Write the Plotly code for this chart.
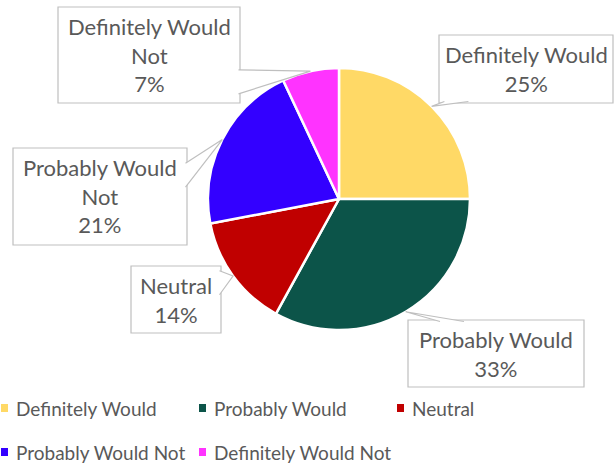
import math
import plotly.graph_objects as go

W, H = 614, 464

labels = ["Definitely Would", "Probably Would", "Neutral", "Probably Would Not", "Definitely Would Not"]
values = [25, 33, 14, 21, 7]
colors = ["#FFD966", "#0C5449", "#C00000", "#3300FF", "#FF33FF"]
# how each callout label is wrapped
callout_names = ["Definitely Would", "Probably Would", "Neutral", "Probably Would<br>Not", "Definitely Would<br>Not"]

# callout boxes in pixels: left, top, width, height, side where the pointer leaves,
# position of the pointer base along that side (fraction)
boxes = [
    (439, 35, 174, 68, "bottom", 0.10),
    (408, 320, 176, 67, "top", 0.25),
    (131, 266, 90, 67, "right", 0.25),
    (13, 148, 174, 97, "right", 0.28),
    (58, 7, 182, 96, "right", 0.78),
]

# pie geometry in pixels
CX, CY, R = 339, 199, 131

TXT = "#595959"
BORDER = "#BFBFBF"
FONT = "Lato"


def px(x):
    return x / W


def py(y):
    return 1 - y / H


fig = go.Figure()
fig.add_trace(go.Pie(
    labels=labels,
    values=values,
    marker=dict(colors=colors, line=dict(color="white", width=2.5)),
    sort=False,
    direction="clockwise",
    rotation=0,
    textinfo="none",
    hoverinfo="label+percent",
    showlegend=False,
    domain=dict(x=[px(CX - R), px(CX + R)], y=[py(CY + R), py(CY - R)]),
))

total = sum(values)
shapes = []
annotations = []
cum = 0
for i, v in enumerate(values):
    mid = (cum + v / 2) / total * 2 * math.pi
    cum += v
    tx = CX + R * math.sin(mid)
    ty = CY - R * math.cos(mid)
    left, top, bw, bh, side, frac = boxes[i]
    right, bottom = left + bw, top + bh
    half = 12
    if side in ("right", "left"):
        ex = right if side == "right" else left
        inset = -1.5 if side == "right" else 1.5
        c = top + frac * bh
        a = (ex + inset, c - half)
        b = (ex + inset, c + half)
    else:
        ey = bottom if side == "bottom" else top
        inset = -1.5 if side == "bottom" else 1.5
        c = left + frac * bw
        a = (c - half, ey + inset)
        b = (c + half, ey + inset)
    shapes.append(dict(
        type="rect", xref="paper", yref="paper", layer="above",
        x0=px(left), x1=px(right), y0=py(bottom), y1=py(top),
        fillcolor="white", line=dict(color=BORDER, width=1.2),
    ))
    shapes.append(dict(
        type="path", xref="paper", yref="paper", layer="above",
        path=f"M {px(a[0])},{py(a[1])} L {px(tx)},{py(ty)} L {px(b[0])},{py(b[1])}",
        fillcolor="white", line=dict(color=BORDER, width=1.2),
    ))
    pct = round(v / total * 100)
    annotations.append(dict(
        xref="paper", yref="paper", x=px(left + bw / 2), y=py(top + bh / 2),
        xanchor="center", yanchor="middle", showarrow=False,
        text=f"{callout_names[i]}<br>{pct}%", align="center",
        font=dict(family=FONT, size=22, color=TXT),
    ))

# manual legend (3 per row)
col_x = [0, 198, 396]
row_y = [408, 452]
for i, lab in enumerate(labels):
    x0 = col_x[i % 3]
    y0 = row_y[i // 3]
    shapes.append(dict(
        type="rect", xref="paper", yref="paper",
        x0=px(x0 + 1), x1=px(x0 + 8), y0=py(y0 + 4), y1=py(y0 - 4),
        fillcolor=colors[i], line=dict(width=0),
    ))
    annotations.append(dict(
        xref="paper", yref="paper", x=px(x0 + 14), y=py(y0),
        xanchor="left", yanchor="middle", showarrow=False, text=lab,
        font=dict(family=FONT, size=19, color=TXT),
    ))

fig.update_layout(
    width=W, height=H,
    margin=dict(l=0, r=0, t=0, b=0),
    paper_bgcolor="white", plot_bgcolor="white",
    shapes=shapes, annotations=annotations,
    font=dict(family=FONT, color=TXT),
)

fig.write_html("out.html")
